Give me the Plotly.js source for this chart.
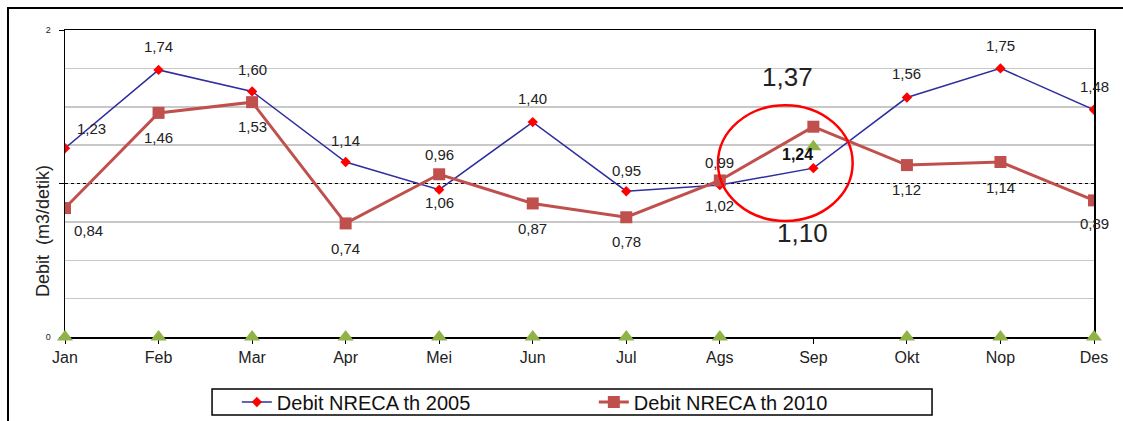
<!DOCTYPE html>
<html>
<head>
<meta charset="utf-8">
<script src="https://cdn.plot.ly/plotly-3.0.1.min.js"></script>
<style>html,body{margin:0;padding:0;background:#fff;}#chart{width:1123px;height:421px;}</style>
</head>
<body>
<div id="chart"></div>
<script>
// ---- data ----
var months = ["Jan","Feb","Mar","Apr","Mei","Jun","Jul","Ags","Sep","Okt","Nop","Des"];
var debit2005 = [1.23,1.74,1.60,1.14,0.96,1.40,0.95,0.99,1.10,1.56,1.75,1.48];
var debit2010 = [0.84,1.46,1.53,0.74,1.06,0.87,0.78,1.02,1.37,1.12,1.14,0.89];
var markerSeries = [0,0,0,0,0,0,0,0,1.24,0,0,0];
var seriesNames = ["Debit NRECA th 2005","Debit NRECA th 2010"];
var yTitle = "Debit  (m3/detik)";

// ---- label styling (offsets in px) ----
var off2005 = [[26,20],[0,23],[0,22],[0,22],[0,35],[0,24],[0,21],[0,23],[-11,-65],[0,24],[0,23],[0,23]];
var off2010 = [[23,-22],[0,-25],[0,-24],[0,-25],[0,-28],[0,-25],[0,-24],[0,-25],[-26,50],[0,-24],[0,-25],[0,-23]];
var bigIdx = 8;

function fmt(v){ return v.toFixed(2).replace('.', ','); }

var traces = [
  {x: months, y: debit2005, name: seriesNames[0], type: 'scatter', mode: 'lines+markers',
   line: {color: '#2e2e9e', width: 1.5}, marker: {symbol: 'diamond', color: '#ff0000', size: 8}},
  {x: months, y: debit2010, name: seriesNames[1], type: 'scatter', mode: 'lines+markers',
   line: {color: '#c0504d', width: 3}, marker: {symbol: 'square', color: '#c0504d', size: 12}},
  {x: months, y: markerSeries, name: 'marker', type: 'scatter', mode: 'markers', showlegend: false,
   cliponaxis: false,
   marker: {symbol: 'triangle-up', color: '#8fb347', size: 14, line: {width: 0}}}
];

var annotations = [];
function addLabels(vals, offs){
  vals.forEach(function(v, i){
    var big = (i === bigIdx);
    annotations.push({x: months[i], y: v, xref: 'x', yref: 'y', text: fmt(v), showarrow: false,
      xshift: offs[i][0], yshift: offs[i][1],
      font: {family: 'Liberation Sans, Arial, sans-serif', size: big ? 26 : 15, color: '#222'}});
  });
}
addLabels(debit2005, off2005);
addLabels(debit2010, off2010);
annotations.push({x: months[8], y: markerSeries[8], xref: 'x', yref: 'y', text: '<b>' + fmt(markerSeries[8]) + '</b>',
  showarrow: false, xshift: -16, yshift: -8,
  font: {family: 'Liberation Sans, Arial, sans-serif', size: 16, color: '#111'}});
annotations.push({xref: 'paper', yref: 'paper', x: -0.0214, y: 0.345, xanchor: 'center', yanchor: 'middle',
  text: yTitle, textangle: -90,
  showarrow: false, font: {family: 'Liberation Sans, Arial, sans-serif', size: 18, color: '#222'}});

var layout = {
  width: 1123, height: 421,
  margin: {l: 65, r: 29, t: 30, b: 84, autoexpand: false},
  paper_bgcolor: '#fff', plot_bgcolor: '#fff',
  showlegend: true,
  legend: {orientation: 'h', x: 0.167, xanchor: 'left', y: -0.2117, yanchor: 'middle',
    borderwidth: 0, bgcolor: 'rgba(0,0,0,0)',
    font: {family: 'Liberation Sans, Arial, sans-serif', size: 20, color: '#111'},
    entrywidth: 312, entrywidthmode: 'pixels', tracegroupgap: 0},
  xaxis: {type: 'category', range: [0, 11], showline: true, linecolor: '#000', linewidth: 1.5, mirror: true,
    layer: 'below traces',
    ticks: 'outside', ticklen: 5, tickcolor: '#000', showgrid: false, zeroline: false,
    tickfont: {family: 'Liberation Sans, Arial, sans-serif', size: 16, color: '#222'}},
  yaxis: {range: [0, 2], showline: true, linecolor: '#000', linewidth: 1.5, mirror: true,
    layer: 'below traces', ticklabelstandoff: 6,
    tickvals: [0, 1, 2], ticktext: ['0', '', '2'], ticks: 'outside', ticklen: 5, tickcolor: '#000',
    tickfont: {family: 'Liberation Sans, Arial, sans-serif', size: 9, color: '#222'},
    showgrid: true, gridcolor: '#000', griddash: 'dot', gridwidth: 1, zeroline: false,
    minor: {dtick: 0.25, tick0: 0, showgrid: true, gridcolor: '#c8c8c8', gridwidth: 1.5, griddash: 'solid', ticks: ''}},
  shapes: [
    {type: 'circle', xref: 'x', yref: 'y', x0: 6.98, x1: 8.42, y0: 0.756, y1: 1.51,
     line: {color: '#ff0000', width: 2.5}},
    {type: 'rect', xref: 'paper', yref: 'paper', x0: -0.0554, x1: 1.06, y0: -0.6, y1: 1.0717,
     line: {color: '#000', width: 2}, layer: 'below'},
    {type: 'rect', xref: 'paper', yref: 'paper', x0: 0.1429, x1: 0.8426, y0: -0.254, y1: -0.1694,
     line: {color: '#000', width: 1.5}, layer: 'below'}
  ],
  annotations: annotations
};

Plotly.newPlot('chart', traces, layout, {displayModeBar: false, staticPlot: true});
</script>
</body>
</html>
